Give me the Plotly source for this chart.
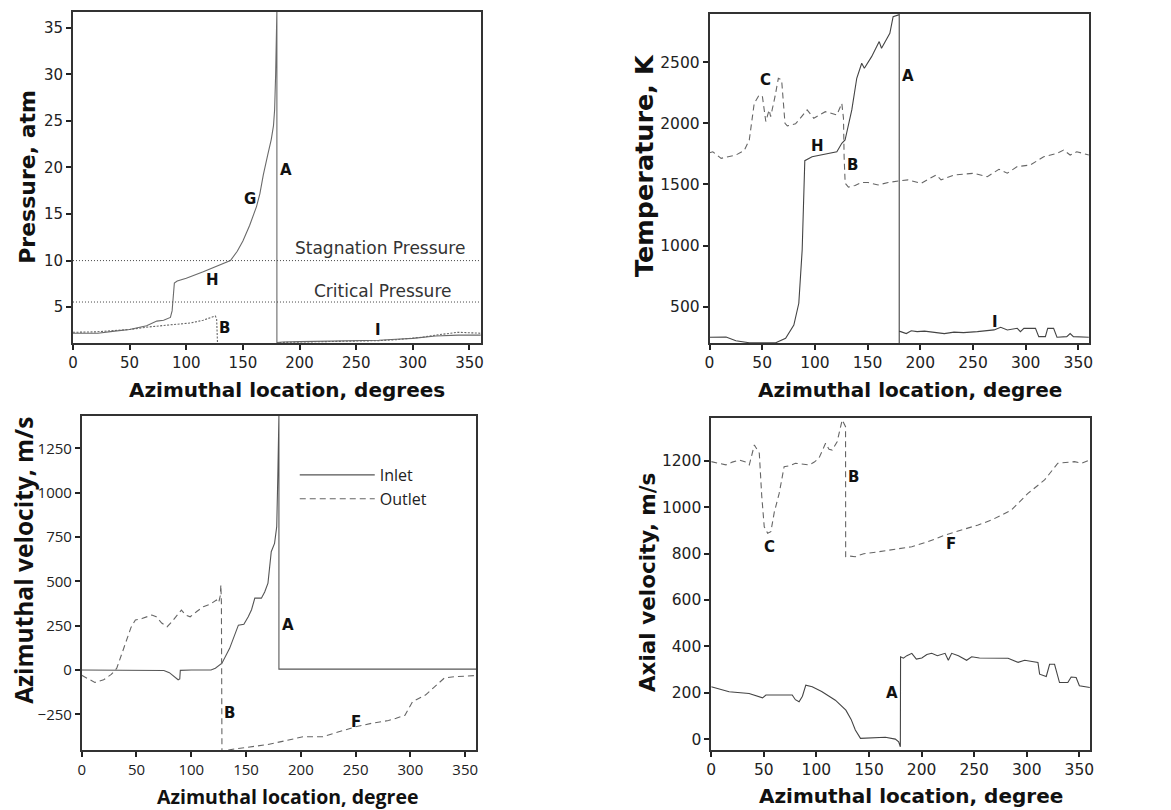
import plotly.graph_objects as go

# ---------------- data ----------------
# Panel 1: Pressure (atm)
p_in_x = [0, 8, 22, 35, 50, 65, 74, 80, 86, 87.5, 89.5, 92, 100, 115, 130, 139, 145, 150, 156, 162, 165, 168, 172, 175,
          177, 178, 178.9, 179.5, 180, 180, 185, 200, 230, 250, 270, 285, 300, 320, 340, 360]
p_in_y = [2.2, 2.2, 2.2, 2.4, 2.6, 3.0, 3.5, 3.6, 3.9, 4.6, 7.6, 7.8, 8.1, 8.8, 9.5, 10.0, 11.0, 12.1, 13.8, 15.8, 17.2,
          19.2, 21.4, 23.0, 24.5, 26.2, 30.0, 34.1, 37.0, 1.2, 1.25, 1.3, 1.35, 1.4, 1.45, 1.55, 1.65, 1.9, 2.0, 2.0]
p_out_x = [0, 20, 50, 65, 86, 104, 115, 124, 125.5, 126.8, 127.5, 127.6, 180, 181, 200, 230, 250, 270, 285, 300, 310,
           320, 330, 340, 350, 360]
p_out_y = [2.3, 2.35, 2.6, 2.85, 3.1, 3.3, 3.6, 3.95, 4.05, 3.8, 1.1, 1.05, 1.05, 1.2, 1.25, 1.3, 1.35, 1.4, 1.5, 1.65,
           1.8, 2.0, 2.15, 2.3, 2.25, 2.2]
stagnation_pressure = 10.0
critical_pressure = 5.55

# Panel 2: Temperature (K)
t_in_x = [0, 15.7, 25, 37.7, 62.8, 72.2, 80, 84.7, 87.9, 89.4, 90.4, 97.3, 109.9, 120.8, 125.5, 128.6, 135, 139.7,
          144.4, 146.9, 153.8, 161, 163.2, 171.1, 174.2, 178.9, 180, 180, 180, 181.4, 186.7, 191.4, 197, 204, 212,
          222.8, 232, 241, 254.2, 262, 270, 276.3, 282.6, 292, 295, 298.3, 309.3, 312.4, 318.7, 320.9, 326.5, 329.7,
          339, 342.2, 345.3, 360]
t_in_y = [250, 252, 222, 205, 205, 241, 350, 528, 964, 1372, 1695, 1727, 1750, 1768, 1837, 1864, 2110, 2369, 2492,
          2451, 2546, 2669, 2615, 2737, 2873, 2890, 2890, 150, 300, 296, 280, 303, 296, 300, 290, 280, 292, 288, 296,
          300, 310, 332, 310, 323, 296, 323, 323, 255, 255, 323, 323, 250, 255, 280, 255, 250]
t_out_x = [0, 3.1, 11, 25, 33, 37.7, 42.4, 47.1, 50.2, 52.1, 53.4, 56.5, 58, 62.1, 65.3, 68.4, 71.6, 73.8, 81.6, 92.6,
           98.9, 109.9, 120.8, 125.5, 127.1, 127.7, 128.7, 131.8, 138.1, 144.4, 150.6, 160, 169.5, 180.5, 188.3, 200.9,
           215, 219.7, 232.2, 251, 263.6, 274.6, 282.5, 292, 304.5, 317.1, 329.6, 336, 342.2, 348.5, 360]
t_out_y = [1760, 1768, 1714, 1741, 1780, 1864, 2164, 2232, 2218, 2083, 2015, 2110, 2055, 2218, 2369, 2355, 2001, 1980,
           1996, 2110, 2042, 2096, 2069, 2164, 2042, 1727, 1510, 1478, 1492, 1516, 1516, 1496, 1516, 1530, 1538, 1510,
           1578, 1538, 1578, 1592, 1564, 1624, 1592, 1646, 1660, 1727, 1755, 1782, 1741, 1768, 1741]

# Panel 3: Azimuthal velocity (m/s)
av_in_x = [0, 50, 75, 80, 85, 88, 89.5, 90, 100, 118, 122, 128, 135, 140, 143, 148, 152, 155, 158, 164, 167, 170, 172,
           173, 176, 178, 179, 180, 180, 200, 250, 300, 360]
av_in_y = [0, 0, -3, -15, -40, -55, -50, -2, 0, 0, 10, 38, 122, 210, 253, 258, 300, 340, 405, 405, 440, 490, 600, 667,
           714, 808, 1100, 1440, 5, 5, 5, 5, 5]
av_out_x = [0, 5, 12, 20, 27, 32, 38, 45, 49, 55, 64, 68, 73, 78, 82, 86, 91, 95, 99, 105, 111, 117, 123, 125, 126.5,
            127, 127.5, 128, 129, 140, 157, 170, 185, 202, 220, 235, 250, 265, 280, 287, 295, 302, 314, 322, 331, 340,
            350, 360]
av_out_y = [-30, -45, -70, -55, -25, 10, 120, 240, 282, 290, 310, 300, 265, 244, 270, 300, 338, 310, 300, 330, 357, 370,
            395, 380, 420, 480, 380, -460, -455, -445, -433, -420, -400, -376, -376, -350, -320, -300, -285, -272, -255,
            -178, -140, -95, -45, -38, -33, -31]

# Panel 4: Axial velocity (m/s)
ax_in_x = [0, 17, 36, 48.8, 52, 77, 80, 83.5, 86.7, 89.9, 96, 105, 118, 128, 133, 137, 141.9, 150, 165.6, 175, 178.2,
           179.8, 180, 182.7, 186, 190.7, 195, 200.2, 205, 209.6, 215, 222.3, 225.4, 228.6, 235, 242.8, 247.6, 255,
           269.6, 282.2, 291.7, 298, 305, 310.6, 312.2, 318.5, 321.7, 326.4, 331.1, 339, 342.2, 346.9, 350, 360]
ax_in_y = [226, 204, 197, 178, 190, 190, 170, 161, 185, 233, 226, 205, 168, 125, 85, 39, 3, 5, 8, 0, -12, -33, 355, 349,
           360, 370, 345, 350, 365, 370, 360, 370, 340, 370, 360, 340, 355, 350, 349, 349, 331, 340, 335, 331, 280,
           270, 323, 323, 244, 244, 268, 266, 230, 223]
ax_out_x = [0, 8, 14, 20, 26.8, 33, 36.2, 41, 45.7, 48, 50.4, 53.6, 56.7, 60, 64.6, 69.3, 75, 80, 92.9, 98, 102.4,
            108.7, 112, 115, 119.7, 124.5, 127.7, 127.8, 131, 137, 145, 159, 175, 190.7, 205, 222.3, 240, 253.8, 266.4,
            285.3, 301.1, 316.9, 329.5, 345.3, 352, 360]
ax_out_y = [1197, 1190, 1183, 1195, 1204, 1195, 1183, 1269, 1233, 1050, 916, 888, 895, 980, 1060, 1175, 1180, 1190,
            1183, 1195, 1212, 1276, 1250, 1247, 1283, 1377, 1348, 787, 790, 787, 800, 808, 818, 830, 850, 880, 905, 924,
            945, 988, 1060, 1118, 1190, 1197, 1190, 1204]

x_ticks = [0, 50, 100, 150, 200, 250, 300, 350]
p_ticks = [5, 10, 15, 20, 25, 30, 35]
t_ticks = [500, 1000, 1500, 2000, 2500]
av_ticks = [-250, 0, 250, 500, 750, 1000, 1250]
ax_ticks = [0, 200, 400, 600, 800, 1000, 1200]

# ---------------- figure ----------------
W, H = 1171, 810
SOLID = '#555555'
DASHC = '#666666'
DASH = '6px,4px'

fig = go.Figure()

def add(x, y, xa, ya, color, dash='solid', width=1.1, name=None, legend=False):
    fig.add_trace(go.Scatter(x=x, y=y, xaxis=xa, yaxis=ya, mode='lines', name=name,
                             showlegend=legend, line=dict(color=color, width=width, dash=dash)))

# panel 1
add(p_in_x, p_in_y, 'x', 'y', '#6a6a6a')
add(p_out_x, p_out_y, 'x', 'y', DASHC, dash='2px,1.5px')
add([0, 360], [stagnation_pressure] * 2, 'x', 'y', '#444', dash='1px,2px', width=1)
add([0, 360], [critical_pressure] * 2, 'x', 'y', '#444', dash='1px,2px', width=1)
# panel 2
add(t_in_x, t_in_y, 'x2', 'y2', '#444444')
add(t_out_x, t_out_y, 'x2', 'y2', DASHC, dash=DASH)
# panel 3
add(av_in_x, av_in_y, 'x3', 'y3', SOLID, name='Inlet', legend=True)
add(av_out_x, av_out_y, 'x3', 'y3', DASHC, dash=DASH, name='Outlet', legend=True)
# panel 4
add(ax_in_x, ax_in_y, 'x4', 'y4', '#444444')
add(ax_out_x, ax_out_y, 'x4', 'y4', DASHC, dash=DASH)


def ax(domain, rng, tickvals, family='DejaVu Sans', size=15, anchor=None):
    return dict(domain=domain, range=rng, tickvals=tickvals, anchor=anchor,
                showline=True, linecolor='#333333', linewidth=1.6, mirror=True,
                ticks='outside', ticklen=5, tickwidth=2.2, tickcolor='#222222',
                showgrid=False, zeroline=False,
                tickfont=dict(family=family, size=size, color='#222222'))

def px_x(v):
    return v / W

def px_y(v):
    return 1 - v / H

fig.update_layout(
    width=W, height=H, autosize=False,
    margin=dict(l=0, r=0, t=0, b=0),
    paper_bgcolor='white', plot_bgcolor='white',
    xaxis=ax([px_x(68.5), px_x(479.5)], [0, 360], x_ticks, anchor='y'),
    yaxis=ax([px_y(343), px_y(12)], [1.15, 36.7], p_ticks, anchor='x'),
    xaxis2=ax([px_x(710), px_x(1092.3)], [0, 360], x_ticks, size=15.5, anchor='y2'),
    yaxis2=ax([px_y(343), px_y(14)], [203, 2895], t_ticks, size=15.5, anchor='x2'),
    xaxis3=ax([px_x(77.3), px_x(474.8)], [0, 360], x_ticks, family='Open Sans', size=15, anchor='y3'),
    yaxis3=ax([px_y(750), px_y(416)], [-451, 1432], av_ticks, family='Open Sans', size=15, anchor='x3'),
    xaxis4=ax([px_x(711.7), px_x(1093.3)], [0, 360], x_ticks, size=15.5, anchor='y4'),
    yaxis4=ax([px_y(750), px_y(418.3)], [-47, 1384], ax_ticks, size=15.5, anchor='x4'),
    legend=dict(x=px_x(292), y=px_y(458), xanchor='left', yanchor='top',
                itemwidth=75, bgcolor='rgba(0,0,0,0)', tracegroupgap=0,
                font=dict(family='Open Sans', size=16, color='#222222')),
)

def tf(family, size):
    return dict(family=family, size=size, color='#111111', weight='bold')

titles = [
    ('Azimuthal location, degrees', 284, 390, 0, tf('DejaVu Sans', 20)),
    ('Azimuthal location, degree', 912, 390, 0, tf('DejaVu Sans', 20)),
    ('Azimuthal location, degree', 285, 796, 0, tf('Open Sans', 19.5)),
    ('Azimuthal location, degree', 913, 796, 0, tf('DejaVu Sans', 20)),
    ('Pressure, atm', 22, 177, -90, tf('DejaVu Sans', 22)),
    ('Temperature, K', 644, 166, -90, tf('DejaVu Sans', 25.5)),
    ('Azimuthal velocity, m/s', 18, 560, -90, tf('Open Sans', 24.5)),
    ('Axial velocity, m/s', 647, 583, -90, tf('DejaVu Sans', 21.5)),
]
for text, xp, yp, ang, f in titles:
    fig.add_annotation(text=text, x=px_x(xp), y=px_y(yp), xref='paper', yref='paper',
                       showarrow=False, textangle=ang, font=f, xanchor='center', yanchor='middle')

# reference line texts
note_font = dict(family='DejaVu Sans', size=17, color='#333333')
fig.add_annotation(text='Stagnation Pressure', x=px_x(378), y=px_y(248), xref='paper', yref='paper',
                   showarrow=False, font=note_font, xanchor='center', yanchor='middle')
fig.add_annotation(text='Critical Pressure', x=px_x(380), y=px_y(291), xref='paper', yref='paper',
                   showarrow=False, font=note_font, xanchor='center', yanchor='middle')

lab_font = dict(family='DejaVu Sans', size=15, color='#111111', weight='bold')
labels = [
    ('x', 'y', 'A', 188, 19.7), ('x', 'y', 'G', 156.6, 16.6), ('x', 'y', 'H', 122.8, 7.9),
    ('x', 'y', 'B', 133.6, 2.8), ('x', 'y', 'I', 269.4, 2.6),
    ('x2', 'y2', 'C', 52.7, 2355), ('x2', 'y2', 'H', 102, 1818), ('x2', 'y2', 'B', 135.9, 1660),
    ('x2', 'y2', 'A', 188.3, 2388), ('x2', 'y2', 'I', 270.9, 372),
    ('x3', 'y3', 'A', 188.3, 254), ('x3', 'y3', 'B', 134.8, -244), ('x3', 'y3', 'F', 250.3, -292),
    ('x4', 'y4', 'B', 135.6, 1132), ('x4', 'y4', 'C', 55.2, 830), ('x4', 'y4', 'F', 228, 842),
    ('x4', 'y4', 'A', 171.8, 197),
]
for xr, yr, t, xv, yv in labels:
    fig.add_annotation(text=t, x=xv, y=yv, xref=xr, yref=yr, showarrow=False, font=lab_font,
                       xanchor='center', yanchor='middle')

fig.write_html('out.html', config={'displayModeBar': False},
               post_script="document.body.style.margin='0';document.body.style.overflow='hidden';")
